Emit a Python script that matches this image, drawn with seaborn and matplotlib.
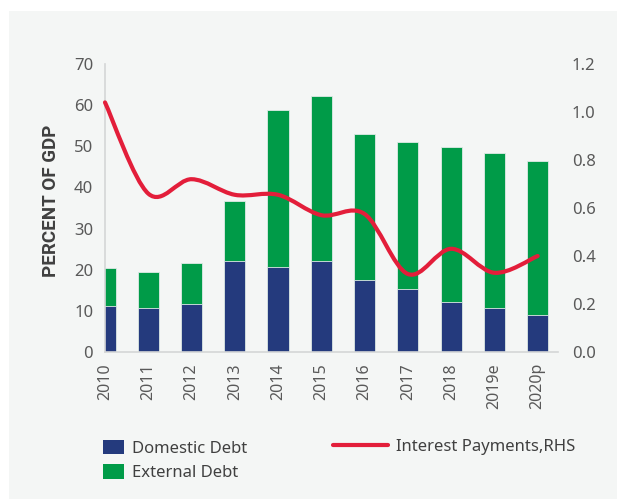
import matplotlib
matplotlib.use("Agg")
import matplotlib.pyplot as plt
from matplotlib.path import Path
from matplotlib.patches import PathPatch, Patch, Rectangle
from matplotlib.lines import Line2D
import seaborn as sns
import pandas as pd

# Public debt composition (% of GDP) and interest payments (% of GDP, right axis)
years = ["2010", "2011", "2012", "2013", "2014", "2015", "2016", "2017", "2018", "2019e", "2020p"]
domestic_debt = [11.3, 10.7, 11.7, 22.0, 20.7, 22.0, 17.6, 15.2, 12.2, 10.8, 9.0]
external_debt = [9.0, 8.7, 10.0, 14.6, 38.0, 40.2, 35.5, 35.8, 37.7, 37.5, 37.4]
interest_payments = [1.04, 0.66, 0.72, 0.655, 0.655, 0.57, 0.575, 0.325, 0.43, 0.33, 0.40]

left_ticks = [0, 10, 20, 30, 40, 50, 60, 70]
right_ticks = [0.0, 0.2, 0.4, 0.6, 0.8, 1.0, 1.2]

NAVY = "#243a7d"
GREEN = "#009b48"
RED = "#e31e3a"
PANEL = "#f4f6f5"
TICK = "#595959"

sns.set_theme(style="white")
plt.rcParams["font.family"] = ["Noto Sans", "DejaVu Sans"]

df = pd.DataFrame({
    "year": years,
    "domestic": domestic_debt,
    "external": external_debt,
})
df["total"] = df["domestic"] + df["external"]

fig = plt.figure(figsize=(6.17, 4.99), dpi=100, facecolor="white")
fig.patches.append(Rectangle((9 / 617, 0), 1, 1 - 11 / 499, transform=fig.transFigure,
                             facecolor=PANEL, edgecolor="none", zorder=-10))

ax = fig.add_axes([105 / 617, 1 - 352 / 499, 453 / 617, 288 / 499])
ax.set_facecolor("none")

bar_kw = dict(width=0.49, edgecolor="#dfeae6", linewidth=0.6, saturation=1)
sns.barplot(data=df, x="year", y="total", color=GREEN, ax=ax, **bar_kw)
sns.barplot(data=df, x="year", y="domestic", color=NAVY, ax=ax, **bar_kw)

ax.set_xlim(0, 10.47)
ax.set_ylim(0, 70)
ax.set_yticks(left_ticks)
ax.set_xlabel("")
ax.set_ylabel("PERCENT OF GDP", fontsize=13.5, fontweight="bold", color="#404040",
              family=["Roboto", "DejaVu Sans"])
ax.yaxis.set_label_coords(-0.099, 0.526)
ax.tick_params(axis="y", length=0, pad=8.5, labelsize=12, labelcolor=TICK)
ax.tick_params(axis="x", length=0, pad=8, labelsize=11.5, labelcolor=TICK, rotation=90)
for lab in ax.get_xticklabels():
    lab.set_verticalalignment("top")
for side in ("top", "right"):
    ax.spines[side].set_visible(False)
for side in ("left", "bottom"):
    ax.spines[side].set_color("#d4d6d6")
    ax.spines[side].set_linewidth(1.2)

ax2 = ax.twinx()
ax2.set_facecolor("none")
ax2.set_ylim(0, 1.2)
ax2.set_yticks(right_ticks)
ax2.set_yticklabels([f"{t:.1f}" for t in right_ticks])
ax2.tick_params(axis="y", length=0, pad=10, labelsize=12, labelcolor=TICK)
ax2.grid(False)
ax.grid(False)
for side in ax2.spines:
    ax2.spines[side].set_visible(False)

# Smoothed interest-payment line: cubic Bezier segments through each year's value
pts = list(zip(range(len(interest_payments)), interest_payments))
n = len(pts)
verts = [pts[0]]
codes = [Path.MOVETO]
for i in range(n - 1):
    p0 = pts[max(i - 1, 0)]
    p1 = pts[i]
    p2 = pts[i + 1]
    p3 = pts[min(i + 2, n - 1)]
    c1 = (p1[0] + (p2[0] - p0[0]) / 6, p1[1] + (p2[1] - p0[1]) / 6)
    c2 = (p2[0] - (p3[0] - p1[0]) / 6, p2[1] - (p3[1] - p1[1]) / 6)
    verts += [c1, c2, p2]
    codes += [Path.CURVE4] * 3
ax2.add_patch(PathPatch(Path(verts, codes), facecolor="none", edgecolor=RED,
                        linewidth=3, capstyle="round", joinstyle="round",
                        clip_on=False, zorder=5))

bar_handles = [Patch(facecolor=NAVY, edgecolor="none", label="Domestic Debt"),
               Patch(facecolor=GREEN, edgecolor="none", label="External Debt")]
leg1 = fig.legend(handles=bar_handles, loc="upper left",
                  bbox_to_anchor=(103 / 617, 1 - 440 / 499), frameon=False,
                  fontsize=12, handlelength=1.26, handleheight=0.96,
                  handletextpad=0.5, labelspacing=0.45, borderpad=0,
                  borderaxespad=0, labelcolor="#404040")
line_handle = [Line2D([], [], color=RED, linewidth=3, label="Interest Payments,RHS")]
leg2 = fig.legend(handles=line_handle, loc="upper left",
                  bbox_to_anchor=(333 / 617, 1 - 439 / 499), frameon=False,
                  fontsize=12, handlelength=3.3, handletextpad=0.45, borderpad=0,
                  borderaxespad=0, labelcolor="#404040")

fig.savefig("out.png", dpi=100, facecolor="white")
